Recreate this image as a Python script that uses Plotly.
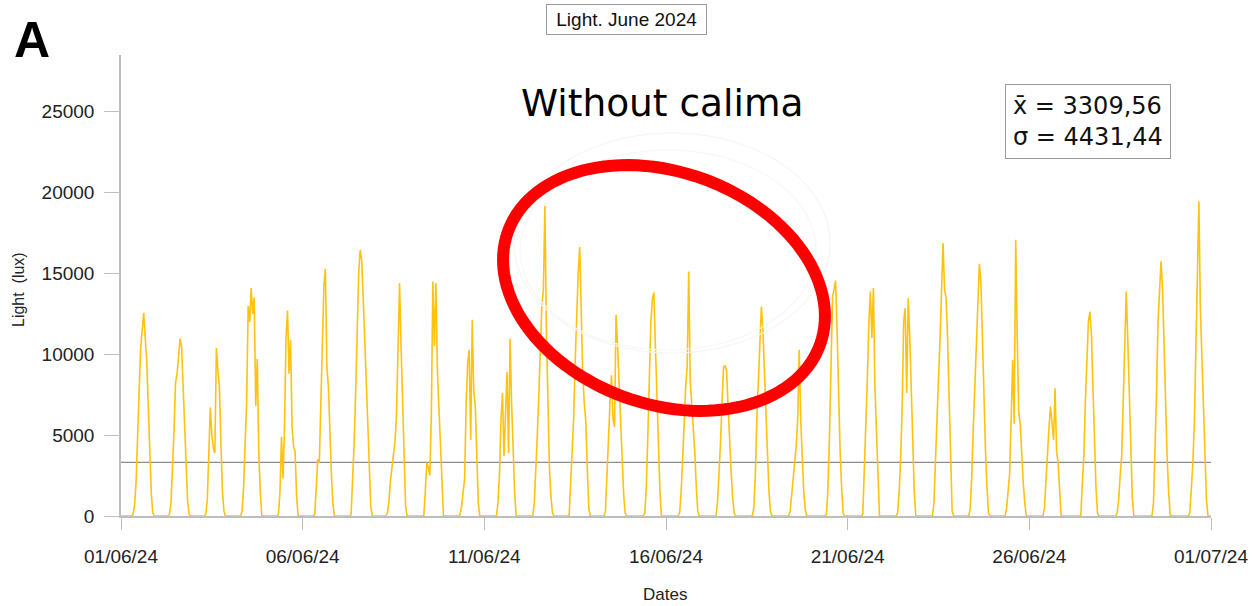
import math
from datetime import datetime
import plotly.graph_objects as go

# ---------------- data (hourly light readings, lux; hours 7..22 of each day) ----------------
hours = list(range(7, 23))

jun01 = [0, 100, 700, 2200, 4500, 7800, 10400, 11500, 12560, 11000, 9600, 6800, 4000, 1400, 200, 0]
jun02 = [0, 100, 800, 2600, 5200, 8200, 8800, 9800, 10950, 10500, 8300, 5600, 3000, 900, 100, 0]
jun03 = [0, 100, 1000, 3500, 6700, 5000, 4200, 3900, 10380, 9000, 8000, 4500, 1500, 300, 0, 0]
jun04 = [0, 300, 1800, 4500, 7000, 13000, 12000, 14100, 12500, 13500, 6800, 9700, 4000, 1500, 0, 0]
jun05 = [0, 100, 1500, 4900, 2300, 5500, 11000, 12700, 8800, 10900, 5500, 4300, 4000, 1200, 0, 0]
jun06 = [0, 100, 1800, 3500, 3300, 7000, 11300, 14200, 15280, 9200, 8000, 5000, 2500, 700, 0, 0]
jun07 = [0, 100, 2000, 4500, 7600, 11500, 15000, 16460, 15800, 13500, 11000, 8500, 5500, 3000, 600, 0]
jun08 = [0, 200, 900, 2200, 3000, 3800, 4600, 6300, 11500, 14400, 10500, 7000, 3500, 600, 0, 0]
jun09 = [0, 0, 1500, 3300, 3000, 2500, 6300, 14500, 10500, 14400, 9000, 6700, 4700, 1500, 0, 0]
jun10 = [0, 100, 600, 1500, 2300, 7000, 9450, 10270, 4700, 12130, 7800, 6800, 3000, 800, 0, 0]
jun11 = [0, 0, 800, 2500, 6000, 7600, 3700, 6000, 8900, 3900, 10950, 7000, 4100, 1500, 0, 0]
jun12 = [0, 0, 800, 2500, 5000, 7500, 9800, 13000, 14000, 19180, 11500, 6000, 3000, 1200, 200, 0]
jun13 = [0, 0, 2000, 4000, 6000, 9500, 12500, 15000, 16630, 12000, 8800, 7000, 5900, 3000, 500, 0]
jun14 = [0, 300, 2800, 4500, 7000, 8700, 6000, 5500, 12440, 10500, 8000, 5500, 3200, 1400, 200, 0]
jun15 = [0, 0, 0, 200, 1800, 5000, 9500, 12000, 13400, 13820, 10500, 7000, 4500, 1500, 0, 0]
jun16 = [0, 0, 200, 1500, 3500, 6000, 8000, 9240, 15120, 8400, 7000, 5800, 4000, 1800, 300, 0]
jun17 = [0, 0, 0, 800, 2500, 4500, 7000, 9200, 9280, 9000, 6800, 4500, 2800, 1200, 200, 0]
jun18 = [0, 0, 0, 500, 2500, 6000, 8500, 11500, 12950, 11500, 9000, 5900, 3500, 1500, 300, 0]
jun19 = [0, 0, 0, 300, 1200, 2500, 3200, 4300, 6000, 10270, 5900, 3500, 1500, 400, 0, 0]
jun20 = [0, 0, 0, 100, 1800, 5000, 9000, 13570, 14000, 14560, 11500, 7500, 4000, 1800, 200, 0]
jun21 = [0, 0, 0, 100, 2500, 5000, 8500, 12000, 13880, 11000, 14090, 8000, 5500, 2000, 0, 0]
jun22 = [0, 0, 200, 1500, 3500, 6700, 12000, 12850, 7600, 13470, 11100, 8000, 4000, 1500, 0, 0]
jun23 = [0, 0, 800, 3000, 6000, 8500, 10900, 14000, 16870, 14000, 13500, 11000, 7000, 3000, 300, 0]
jun24 = [0, 0, 500, 2500, 5500, 7800, 11000, 13500, 15590, 14500, 10500, 7000, 4200, 1800, 200, 0]
jun25 = [0, 0, 500, 1500, 2600, 6000, 9650, 5700, 17080, 11100, 6400, 5700, 3300, 2000, 800, 0]
jun26 = [0, 0, 0, 500, 2500, 4500, 5500, 6770, 5500, 4700, 7900, 4000, 3300, 1200, 0, 0]
jun27 = [0, 0, 0, 0, 2000, 3700, 7000, 10000, 12000, 12640, 11300, 8000, 4500, 1800, 200, 0]
jun28 = [0, 0, 0, 200, 1000, 2500, 3700, 7000, 10500, 13880, 11000, 7500, 4000, 1200, 0, 0]
jun29 = [0, 0, 0, 800, 3500, 7500, 12000, 14190, 15740, 14000, 10000, 6500, 3700, 1500, 100, 0]
jun30 = [0, 0, 0, 200, 1500, 3200, 5700, 10700, 16250, 19450, 12750, 9450, 6000, 3000, 1000, 0]

mean_value = 3309.56
std_value = 4431.44

tick_dates = ["2024-06-01", "2024-06-06", "2024-06-11", "2024-06-16",
              "2024-06-21", "2024-06-26", "2024-07-01"]
tick_labels = ["01/06/24", "06/06/24", "11/06/24", "16/06/24",
               "21/06/24", "26/06/24", "01/07/24"]
y_ticks = [0, 5000, 10000, 15000, 20000, 25000]

# ---------------- build series ----------------
profiles = [jun01, jun02, jun03, jun04, jun05, jun06, jun07, jun08, jun09, jun10,
            jun11, jun12, jun13, jun14, jun15, jun16, jun17, jun18, jun19, jun20,
            jun21, jun22, jun23, jun24, jun25, jun26, jun27, jun28, jun29, jun30]
xs = [datetime(2024, 6, 1, 0)]
ys = [0]
for d, prof in enumerate(profiles, start=1):
    for h, v in zip(hours, prof):
        xs.append(datetime(2024, 6, d, h))
        ys.append(v)
xs.append(datetime(2024, 7, 1, 0))
ys.append(0)

W, H = 1259, 606
ML, MR, MT, MB = 121, 48, 55, 90
PW, PH = W - ML - MR, H - MT - MB


def px2paper(px, py):
    return (px - ML) / PW, (H - MB - py) / PH


def ellipse_path(cx, cy, a, b, theta_deg, n=120):
    th = math.radians(theta_deg)
    pts = []
    for i in range(n + 1):
        t = 2 * math.pi * i / n
        px = cx + a * math.cos(t) * math.cos(th) - b * math.sin(t) * math.sin(th)
        py = cy + a * math.cos(t) * math.sin(th) + b * math.sin(t) * math.cos(th)
        xp, yp = px2paper(px, py)
        pts.append(f"{xp:.5f},{yp:.5f}")
    return "M " + " L ".join(pts) + " Z"


fig = go.Figure()
fig.add_trace(go.Scatter(
    x=xs, y=ys, mode="lines",
    line=dict(color="#FFC20E", width=1.6),
    hoverinfo="skip", showlegend=False,
))

# mean line
fig.add_shape(type="line", xref="x", yref="y",
              x0=xs[0], x1=xs[-1], y0=mean_value, y1=mean_value,
              line=dict(color="#8c8c8c", width=1.2), layer="below")

# faint ghost ellipses
fig.add_shape(type="path", xref="paper", yref="paper",
              path=ellipse_path(672, 243, 158, 110, 0),
              line=dict(color="#f5f5f5", width=1.2), layer="above")
fig.add_shape(type="path", xref="paper", yref="paper",
              path=ellipse_path(668, 250, 148, 100, 0),
              line=dict(color="#f7f7f7", width=1.2), layer="above")
# red ellipse
fig.add_shape(type="path", xref="paper", yref="paper",
              path=ellipse_path(664, 288, 166, 116, 20),
              line=dict(color="#ff0000", width=12), layer="above")

AR = "Arial, Liberation Sans, sans-serif"
DV = "DejaVu Sans, Verdana, sans-serif"

ann = []
xp, yp = px2paper(626, 19)
ann.append(dict(x=xp, y=yp, xref="paper", yref="paper",
                text="\u00a0Light. June 2024\u00a0",
                showarrow=False, font=dict(family=AR, size=19, color="#111"),
                bordercolor="#9a9a9a", borderwidth=1, borderpad=4,
                bgcolor="white", xanchor="center", yanchor="middle"))
xp, yp = px2paper(32, 40)
ann.append(dict(x=xp, y=yp, xref="paper", yref="paper", text="<b>A</b>",
                showarrow=False, font=dict(family=AR, size=50, color="#000"),
                xanchor="center", yanchor="middle"))
xp, yp = px2paper(662, 103)
ann.append(dict(x=xp, y=yp, xref="paper", yref="paper", text="Without calima",
                showarrow=False, font=dict(family=DV, size=37.5, color="#000"),
                xanchor="center", yanchor="middle"))
xp, yp = px2paper(1088, 121.5)
stats_text = f"x\u0304 = {mean_value:.2f}".replace(".", ",") + "<br>" + \
             f"\u03c3 = {std_value:.2f}".replace(".", ",")
ann.append(dict(x=xp, y=yp, xref="paper", yref="paper", text=stats_text,
                showarrow=False, align="left",
                font=dict(family=DV, size=24, color="#111"),
                bordercolor="#9a9a9a", borderwidth=1, borderpad=7,
                bgcolor="white", xanchor="center", yanchor="middle"))
xp, yp = px2paper(18, 290)
ann.append(dict(x=xp, y=yp, xref="paper", yref="paper", text="Light  (lux)",
                showarrow=False, textangle=-90,
                font=dict(family=AR, size=16, color="#222"),
                xanchor="center", yanchor="middle"))
xp, yp = px2paper(665, 594)
ann.append(dict(x=xp, y=yp, xref="paper", yref="paper", text="Dates",
                showarrow=False, font=dict(family=AR, size=17, color="#222"),
                xanchor="center", yanchor="middle"))

fig.update_layout(
    width=W, height=H,
    margin=dict(l=ML, r=MR, t=MT, b=MB, pad=0),
    paper_bgcolor="white", plot_bgcolor="white",
    font=dict(family=AR, size=19, color="#222"),
    annotations=ann,
    showlegend=False,
)
fig.update_xaxes(
    type="date", range=[xs[0], xs[-1]],
    tickvals=tick_dates, ticktext=tick_labels,
    showgrid=False, zeroline=False,
    showline=True, linecolor="#bdbdbd", linewidth=1.5,
    ticks="outside", ticklen=12, tickcolor="#bdbdbd", tickwidth=1.2,
    ticklabelstandoff=10, layer="below traces",
    tickfont=dict(family=AR, size=19, color="#222"),
)
fig.update_yaxes(
    range=[0, 28500], tickvals=y_ticks, tickformat="d",
    showgrid=False, zeroline=False,
    showline=True, linecolor="#bdbdbd", linewidth=1.5,
    ticks="outside", ticklen=15, tickcolor="#bdbdbd", tickwidth=1.2,
    ticklabelstandoff=6, layer="below traces",
    tickfont=dict(family=AR, size=19, color="#222"),
)

fig.write_html("out.html", config={"displayModeBar": False},
               post_script="document.body.style.margin='0';")
